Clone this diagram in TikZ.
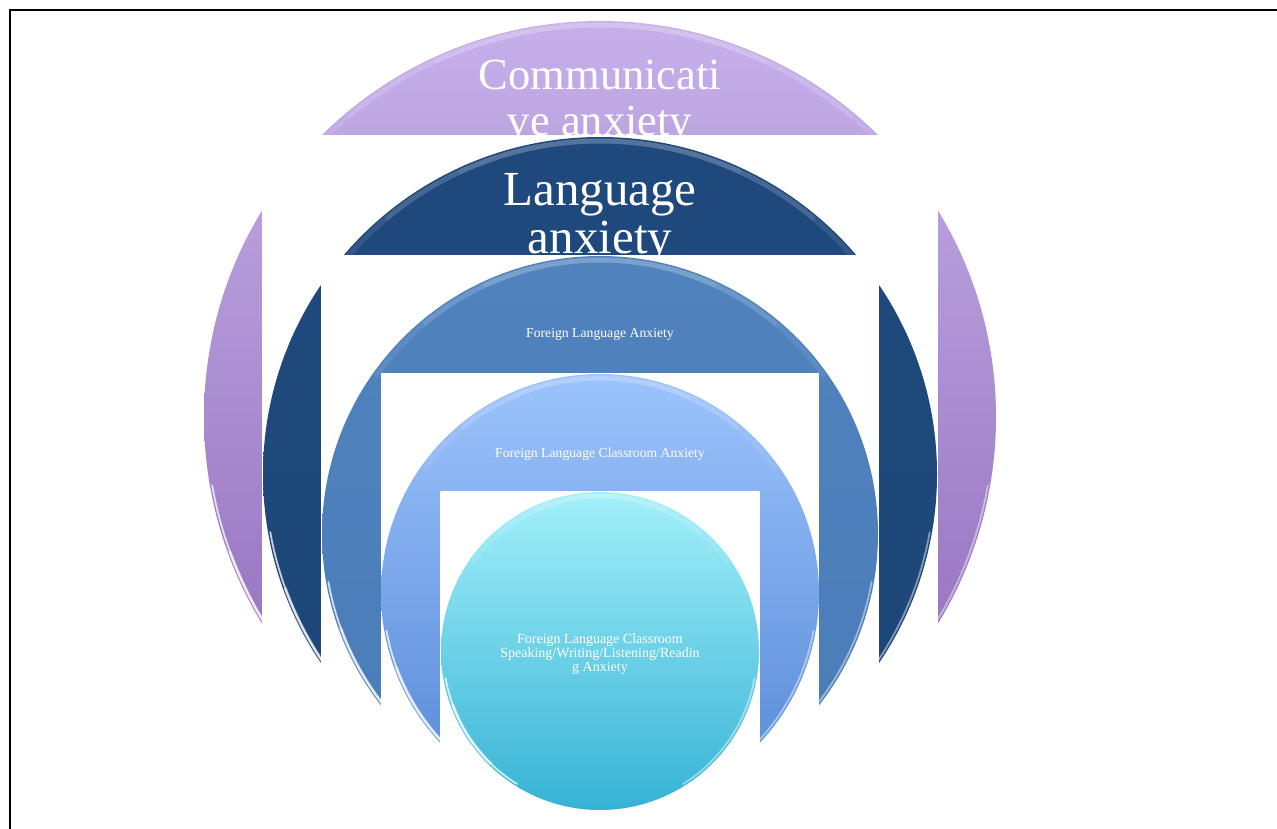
\documentclass[tikz,border=0pt]{standalone}
\usepackage{fontspec}
\setmainfont{Liberation Serif}
\definecolor{purpleTop}{HTML}{C6B0EA}
\definecolor{purpleBot}{HTML}{8C66B6}
\definecolor{darkBlue}{HTML}{1F497D}
\definecolor{darkBlueB}{HTML}{1E4678}
\definecolor{medBlue}{HTML}{5082BE}
\definecolor{medBlueB}{HTML}{4A7CB9}
\definecolor{lightTop}{HTML}{9CC3FC}
\definecolor{lightBot}{HTML}{5487D6}
\definecolor{cyanTop}{HTML}{A3F0FA}
\definecolor{cyanBot}{HTML}{36B2D5}
\newcommand\mybubble[5]{%
  \shade[top color=#4, bottom color=#5] (#1,#2) circle[radius=#3pt];
  \pgfmathsetmacro\rin{#3-2.2}%
  \pgfmathsetmacro\rtop{#3-4}%
  \draw[tophl] (#1,#2) ++(35:\rtop pt) arc[start angle=35,end angle=145,radius=\rtop pt];
  \draw[tophl] (#1,#2) ++(50:\rtop pt) arc[start angle=50,end angle=130,radius=\rtop pt];
  \draw[tophl] (#1,#2) ++(65:\rtop pt) arc[start angle=65,end angle=115,radius=\rtop pt];
  \draw[glint] (#1,#2) ++(190:\rin pt) arc[start angle=190,end angle=238,radius=\rin pt];
  \draw[glint, line width=3pt, opacity=.5] (#1,#2) ++(200:\rin pt) arc[start angle=200,end angle=226,radius=\rin pt];
  \draw[glint, opacity=.45] (#1,#2) ++(302:\rin pt) arc[start angle=302,end angle=350,radius=\rin pt];
}
\begin{document}
\begin{tikzpicture}[x=1pt,y=1pt,
  tophl/.style={white, line width=5pt, opacity=0.09},
  glint/.style={white, line width=1.8pt, opacity=0.75, line cap=round},
  mask/.style={fill=white, draw=none},
  lbl/.style={text=white, align=center, inner sep=0pt, anchor=base},
  bigA/.style={lbl, font=\fontsize{44.5}{46}\selectfont},
  bigB/.style={lbl, font=\fontsize{49}{48}\selectfont},
  small/.style={lbl, font=\fontsize{13.7}{14}\selectfont}]
\clip (0,0) rectangle (1277,-828);
\fill[white] (0,0) rectangle (1277,-828);
\draw[line width=2pt] (10,-10) rectangle (1300,-860);

% outer: communicative anxiety
\mybubble{600}{-417}{396}{purpleTop}{purpleBot}
\node[bigA] (comm) at (600,-89)
  {\begin{tabular}[t]{@{}c@{}}Communicati\\ve anxiety\end{tabular}};
\fill[mask] (262,-135) rectangle (938,-828);

% language anxiety
\mybubble{600}{-474}{337}{darkBlue}{darkBlueB}
\node[bigB] (lang) at (600,-205)
  {\begin{tabular}[t]{@{}c@{}}Language\\anxiety\end{tabular}};
\fill[mask] (321,-255) rectangle (879,-828);

% foreign language anxiety
\mybubble{600}{-534}{278}{medBlue}{medBlueB}
\node[small] (fla) at (600,-337) {Foreign Language Anxiety};
\fill[mask] (381,-373) rectangle (819,-828);

% classroom anxiety
\mybubble{600}{-593}{219}{lightTop}{lightBot}
\node[small] (flca) at (600,-457) {Foreign Language Classroom Anxiety};
\fill[mask] (440,-491) rectangle (760,-828);

% skill anxiety
\mybubble{600}{-651}{159}{cyanTop}{cyanBot}
\node[small, font=\fontsize{14}{14}\selectfont] (skill) at (600,-643)
  {\begin{tabular}[t]{@{}c@{}}Foreign Language Classroom\\Speaking/Writing/Listening/Readin\\g Anxiety\end{tabular}};
\end{tikzpicture}
\end{document}
